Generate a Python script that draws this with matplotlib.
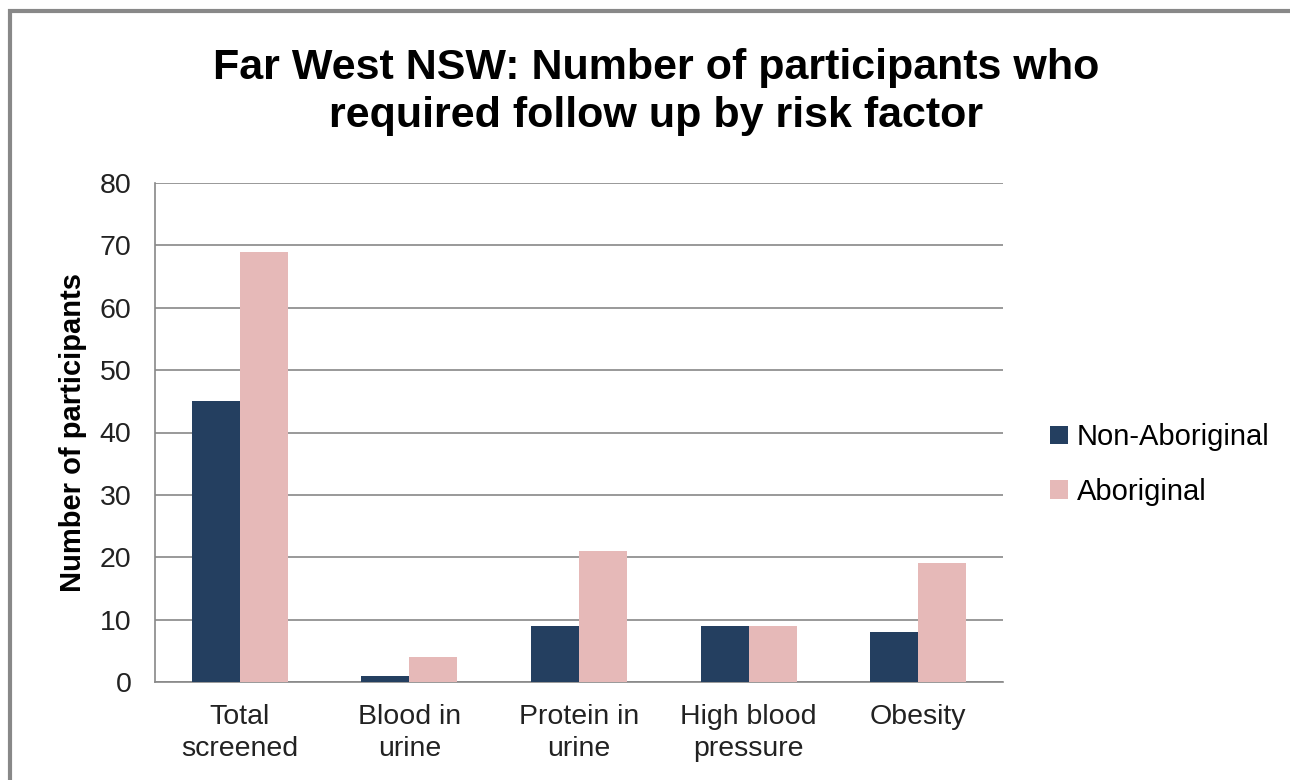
import matplotlib.pyplot as plt
import numpy as np
from matplotlib.patches import Rectangle

categories = ['Total\nscreened', 'Blood in\nurine', 'Protein in\nurine',
              'High blood\npressure', 'Obesity']
non_aboriginal = [45, 1, 9, 9, 8]
aboriginal = [69, 4, 21, 9, 19]
series_names = ['Non-Aboriginal', 'Aboriginal']
colors = ['#243F60', '#E6B9B8']

plt.rcParams['font.family'] = ['Liberation Sans', 'DejaVu Sans']

fig = plt.figure(figsize=(12.9, 7.8), dpi=100)
fig.patches.append(Rectangle((10 / 1290, -0.1), 1.2, 1.1 - 11 / 780,
                             transform=fig.transFigure, fill=False,
                             edgecolor='#888888', linewidth=3, zorder=0))

ax = fig.add_axes([155 / 1290, 1 - 682 / 780, 848 / 1290, 499 / 780])

x = np.arange(len(categories))
w = 0.283
ax.bar(x - w / 2, non_aboriginal, w, color=colors[0], label=series_names[0], zorder=3)
ax.bar(x + w / 2, aboriginal, w, color=colors[1], label=series_names[1], zorder=3)

ax.set_xlim(-0.5, len(categories) - 0.5)
ax.set_ylim(0, 80)
ax.set_yticks(range(0, 81, 10))
ax.yaxis.grid(True, color='#888888', linewidth=1.2)
ax.set_axisbelow(True)
ax.set_xticks(x)
ax.set_xticklabels(categories, fontsize=20.5, color='#222222', linespacing=1.3)
ax.tick_params(axis='y', labelsize=20.5, labelcolor='#222222', length=0, pad=17)
ax.tick_params(axis='x', length=0, pad=16)
for s in ['top', 'right']:
    ax.spines[s].set_visible(False)
for s in ['left', 'bottom']:
    ax.spines[s].set_color('#888888')
    ax.spines[s].set_linewidth(1.2)

ax.set_ylabel('Number of participants', fontsize=21, fontweight='bold', labelpad=9)

fig.suptitle('Far West NSW: Number of participants who\nrequired follow up by risk factor',
             fontsize=31, fontweight='bold', x=656 / 1290, y=1 - 48 / 780,
             va='top', linespacing=1.25)

ax.legend(loc='center left', bbox_to_anchor=(1.025, 0.436), frameon=False,
          fontsize=21, handlelength=0.6, handleheight=0.6, handletextpad=0.3,
          labelspacing=0.9)

fig.savefig('out.png', dpi=100)
